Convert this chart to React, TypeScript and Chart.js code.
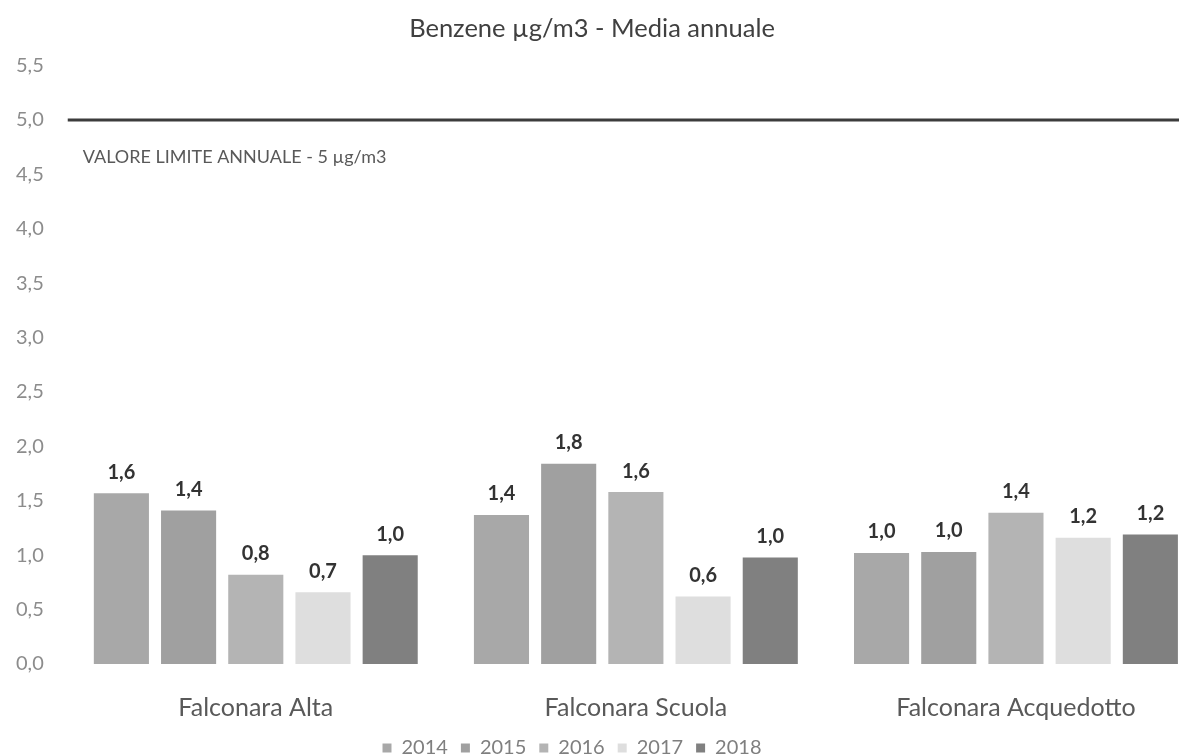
import React, { useEffect, useRef } from "react";
import { Chart, registerables } from "chart.js";

Chart.register(...registerables);

const TITLE = "Benzene µg/m3 - Media annuale";
const categories = ["Falconara Alta", "Falconara Scuola", "Falconara Acquedotto"];
const years = ["2014", "2015", "2016", "2017", "2018"];
const values2014 = [1.57, 1.37, 1.02];
const values2015 = [1.41, 1.84, 1.03];
const values2016 = [0.82, 1.58, 1.39];
const values2017 = [0.66, 0.62, 1.16];
const values2018 = [1.0, 0.98, 1.19];
const seriesColors = ["#a8a8a8", "#a0a0a0", "#b4b4b4", "#dedede", "#808080"];
const LIMIT_VALUE = 5;
const LIMIT_LABEL = "VALORE LIMITE ANNUALE - 5 µg/m3";
const Y_MIN = 0;
const Y_MAX = 5.5;
const Y_STEP = 0.5;

const fmt = (v: number) => v.toFixed(1).replace(".", ",");

const limitPlugin = {
  id: "limitLine",
  afterDatasetsDraw(chart: any) {
    const { ctx, chartArea, scales } = chart;
    const y = scales.y.getPixelForValue(LIMIT_VALUE);
    ctx.save();
    ctx.strokeStyle = "#3c3c3c";
    ctx.lineWidth = 3;
    ctx.beginPath();
    ctx.moveTo(chartArea.left + 2, y);
    ctx.lineTo(chartArea.right, y);
    ctx.stroke();
    ctx.fillStyle = "#595959";
    ctx.font = "18px Lato";
    ctx.textAlign = "left";
    ctx.textBaseline = "middle";
    ctx.fillText(LIMIT_LABEL, chartArea.left + 17, y + 37);
    ctx.restore();
  },
};

const valueLabelPlugin = {
  id: "valueLabels",
  afterDatasetsDraw(chart: any) {
    const { ctx } = chart;
    ctx.save();
    ctx.fillStyle = "#333333";
    ctx.font = "bold 20px Lato";
    ctx.textAlign = "center";
    ctx.textBaseline = "middle";
    chart.data.datasets.forEach((ds: any, i: number) => {
      const meta = chart.getDatasetMeta(i);
      meta.data.forEach((bar: any, j: number) => {
        ctx.fillText(fmt(ds.data[j]), bar.x, bar.y - 21);
      });
    });
    ctx.restore();
  },
};

const shiftPlugin = {
  id: "boxShift",
  afterLayout(chart: any) {
    const lg = chart.legend;
    if (lg) {
      lg.left -= 28;
      lg.right -= 28;
      lg.top -= 27;
      lg.bottom -= 27;
    }
    const tt = chart.titleBlock;
    if (tt) {
      tt.left -= 8;
      tt.right -= 8;
    }
  },
};

export default function App() {
  const ref = useRef<HTMLCanvasElement | null>(null);
  useEffect(() => {
    if (!ref.current) return;
    Chart.defaults.font.family = "Lato";
    const allValues = [values2014, values2015, values2016, values2017, values2018];
    const chart = new Chart(ref.current, {
      type: "bar",
      data: {
        labels: categories,
        datasets: years.map((yr, i) => ({
          label: yr,
          data: allValues[i],
          backgroundColor: seriesColors[i],
          borderWidth: 0,
          categoryPercentage: 0.884,
          barPercentage: 0.82,
        })),
      },
      options: {
        responsive: false,
        animation: false,
        layout: { padding: { left: -6, right: 0, top: 0, bottom: 0 } },
        plugins: {
          title: {
            display: true,
            text: TITLE,
            color: "#404040",
            font: { family: "Lato", size: 25.5, weight: "normal" },
            padding: { top: 13, bottom: 22 },
          },
          legend: {
            position: "bottom",
            labels: {
              boxWidth: 9,
              boxHeight: 9,
              padding: 13,
              color: "#7f7f7f",
              font: { family: "Lato", size: 20 },
            },
          },
          tooltip: { enabled: false },
        },
        scales: {
          x: {
            grid: { display: false, drawTicks: false },
            border: { display: false },
            ticks: {
              color: "#595959",
              padding: 29,
              font: { family: "Lato", size: 25 },
            },
          },
          y: {
            min: Y_MIN,
            max: Y_MAX,
            grid: { display: false, drawTicks: false },
            border: { display: false },
            ticks: {
              stepSize: Y_STEP,
              padding: 22,
              color: "#8c8c8c",
              font: { family: "Lato", size: 20 },
              callback: (v: any) => fmt(Number(v)),
            },
          },
        },
      },
      plugins: [limitPlugin, valueLabelPlugin, shiftPlugin],
    });
    return () => chart.destroy();
  }, []);

  return (
    <div
      style={{
        position: "fixed",
        left: 0,
        top: 0,
        width: 1179,
        height: 754,
        overflow: "hidden",
        background: "#ffffff",
      }}
    >
      <canvas ref={ref} width={1206} height={795} style={{ display: "block" }} />
    </div>
  );
}
